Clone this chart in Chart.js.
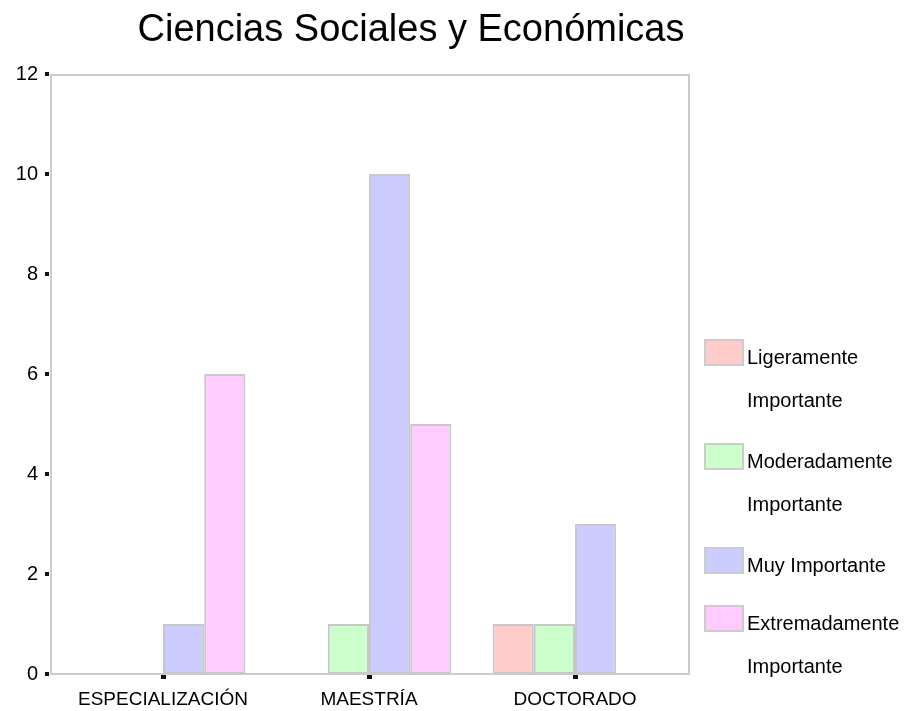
<!DOCTYPE html>
<html>
<head>
<meta charset="utf-8">
<title>Ciencias Sociales y Económicas</title>
<script src="https://cdn.jsdelivr.net/npm/chart.js@4/dist/chart.umd.min.js"></script>
<style>
  html, body { margin: 0; padding: 0; background: #fff; }
  canvas { display: block; }
</style>
</head>
<body>
<canvas id="chart" width="909" height="711"></canvas>
<script>
// datos
const chartTitle = 'Ciencias Sociales y Económicas';
const categories = ['ESPECIALIZACIÓN', 'MAESTRÍA', 'DOCTORADO'];
const seriesNames = ['Ligeramente Importante', 'Moderadamente Importante', 'Muy Importante', 'Extremadamente Importante'];
const ligeramente = [0, 0, 1];
const moderadamente = [0, 1, 1];
const muy = [1, 10, 3];
const extremadamente = [6, 5, 0];
const yTicks = [0, 2, 4, 6, 8, 10, 12];

const colors = ['#ffcccc', '#ccffcc', '#ccccff', '#ffccff'];
const FONT = "'Liberation Sans', Arial, sans-serif";

// titulo, marco, marcas de eje y leyenda
const decorPlugin = {
    id: 'decor',
    beforeDatasetsDraw(chart) {
        const ctx = chart.ctx;
        const area = chart.chartArea;
        ctx.save();
        ctx.strokeStyle = '#cccccc';
        ctx.lineWidth = 2;
        ctx.strokeRect(area.left - 9, area.top + 1, (area.right + 11) - (area.left - 9), area.bottom - area.top - 1);
        ctx.restore();
    },
    afterDraw(chart) {
        const ctx = chart.ctx;
        const area = chart.chartArea;
        const yScale = chart.scales.y;
        const xScale = chart.scales.x;
        ctx.save();

        // titulo
        ctx.fillStyle = '#000';
        ctx.font = '38px ' + FONT;
        ctx.textAlign = 'center';
        ctx.textBaseline = 'alphabetic';
        ctx.fillText(chartTitle, 411, 41);

        // marcas del eje y
        ctx.fillStyle = '#111';
        yTicks.forEach(v => {
            const y = Math.round(yScale.getPixelForValue(v));
            ctx.fillRect(area.left - 15, y - 2, 4, 4);
        });
        // marcas del eje x
        categories.forEach((c, i) => {
            const x = Math.round(xScale.getPixelForValue(i));
            ctx.fillRect(x - 2, area.bottom + 1, 5, 4);
        });

        // leyenda
        ctx.font = '20px ' + FONT;
        ctx.textAlign = 'left';
        let top = 339;
        chart.data.datasets.forEach(ds => {
            const words = ds.label.split(' ');
            const lines = [];
            let cur = '';
            words.forEach(w => {
                const test = cur ? cur + ' ' + w : w;
                if (cur && ctx.measureText(test).width > 158) {
                    lines.push(cur);
                    cur = w;
                } else {
                    cur = test;
                }
            });
            lines.push(cur);

            ctx.fillStyle = ds.backgroundColor;
            ctx.fillRect(704, top, 40, 27);
            ctx.strokeStyle = '#cccccc';
            ctx.lineWidth = 2;
            ctx.strokeRect(705, top + 1, 38, 25);

            ctx.fillStyle = '#000';
            lines.forEach((ln, j) => {
                ctx.fillText(ln, 747, top + 25 + j * 43);
            });
            top += 58 + 46 * (lines.length - 1);
        });
        ctx.restore();
    }
};

new Chart(document.getElementById('chart'), {
    type: 'bar',
    data: {
        labels: categories,
        datasets: [
            { label: seriesNames[0], data: ligeramente, backgroundColor: colors[0] },
            { label: seriesNames[1], data: moderadamente, backgroundColor: colors[1] },
            { label: seriesNames[2], data: muy, backgroundColor: colors[2] },
            { label: seriesNames[3], data: extremadamente, backgroundColor: colors[3] }
        ].map(ds => Object.assign(ds, {
            borderColor: '#c8c8c8',
            borderWidth: 2,
            borderSkipped: false,
            categoryPercentage: 0.8,
            barPercentage: 1.0
        }))
    },
    options: {
        responsive: false,
        animation: false,
        layout: { padding: { top: 74, right: 231, bottom: 0, left: 0 } },
        plugins: {
            legend: { display: false },
            title: { display: false },
            tooltip: { enabled: false }
        },
        scales: {
            x: {
                grid: { display: false, drawTicks: false },
                border: { display: false },
                ticks: { color: '#000', font: { family: FONT, size: 19 }, padding: 14, maxRotation: 0 },
                afterFit: scale => { scale.height = 37; }
            },
            y: {
                min: 0,
                max: 12,
                grid: { display: false, drawTicks: false },
                border: { display: false },
                afterBuildTicks: scale => { scale.ticks = yTicks.map(v => ({ value: v })); },
                ticks: { color: '#000', font: { family: FONT, size: 20 }, padding: 22 },
                afterFit: scale => { scale.width = 60; }
            }
        }
    },
    plugins: [decorPlugin]
});
</script>
</body>
</html>
